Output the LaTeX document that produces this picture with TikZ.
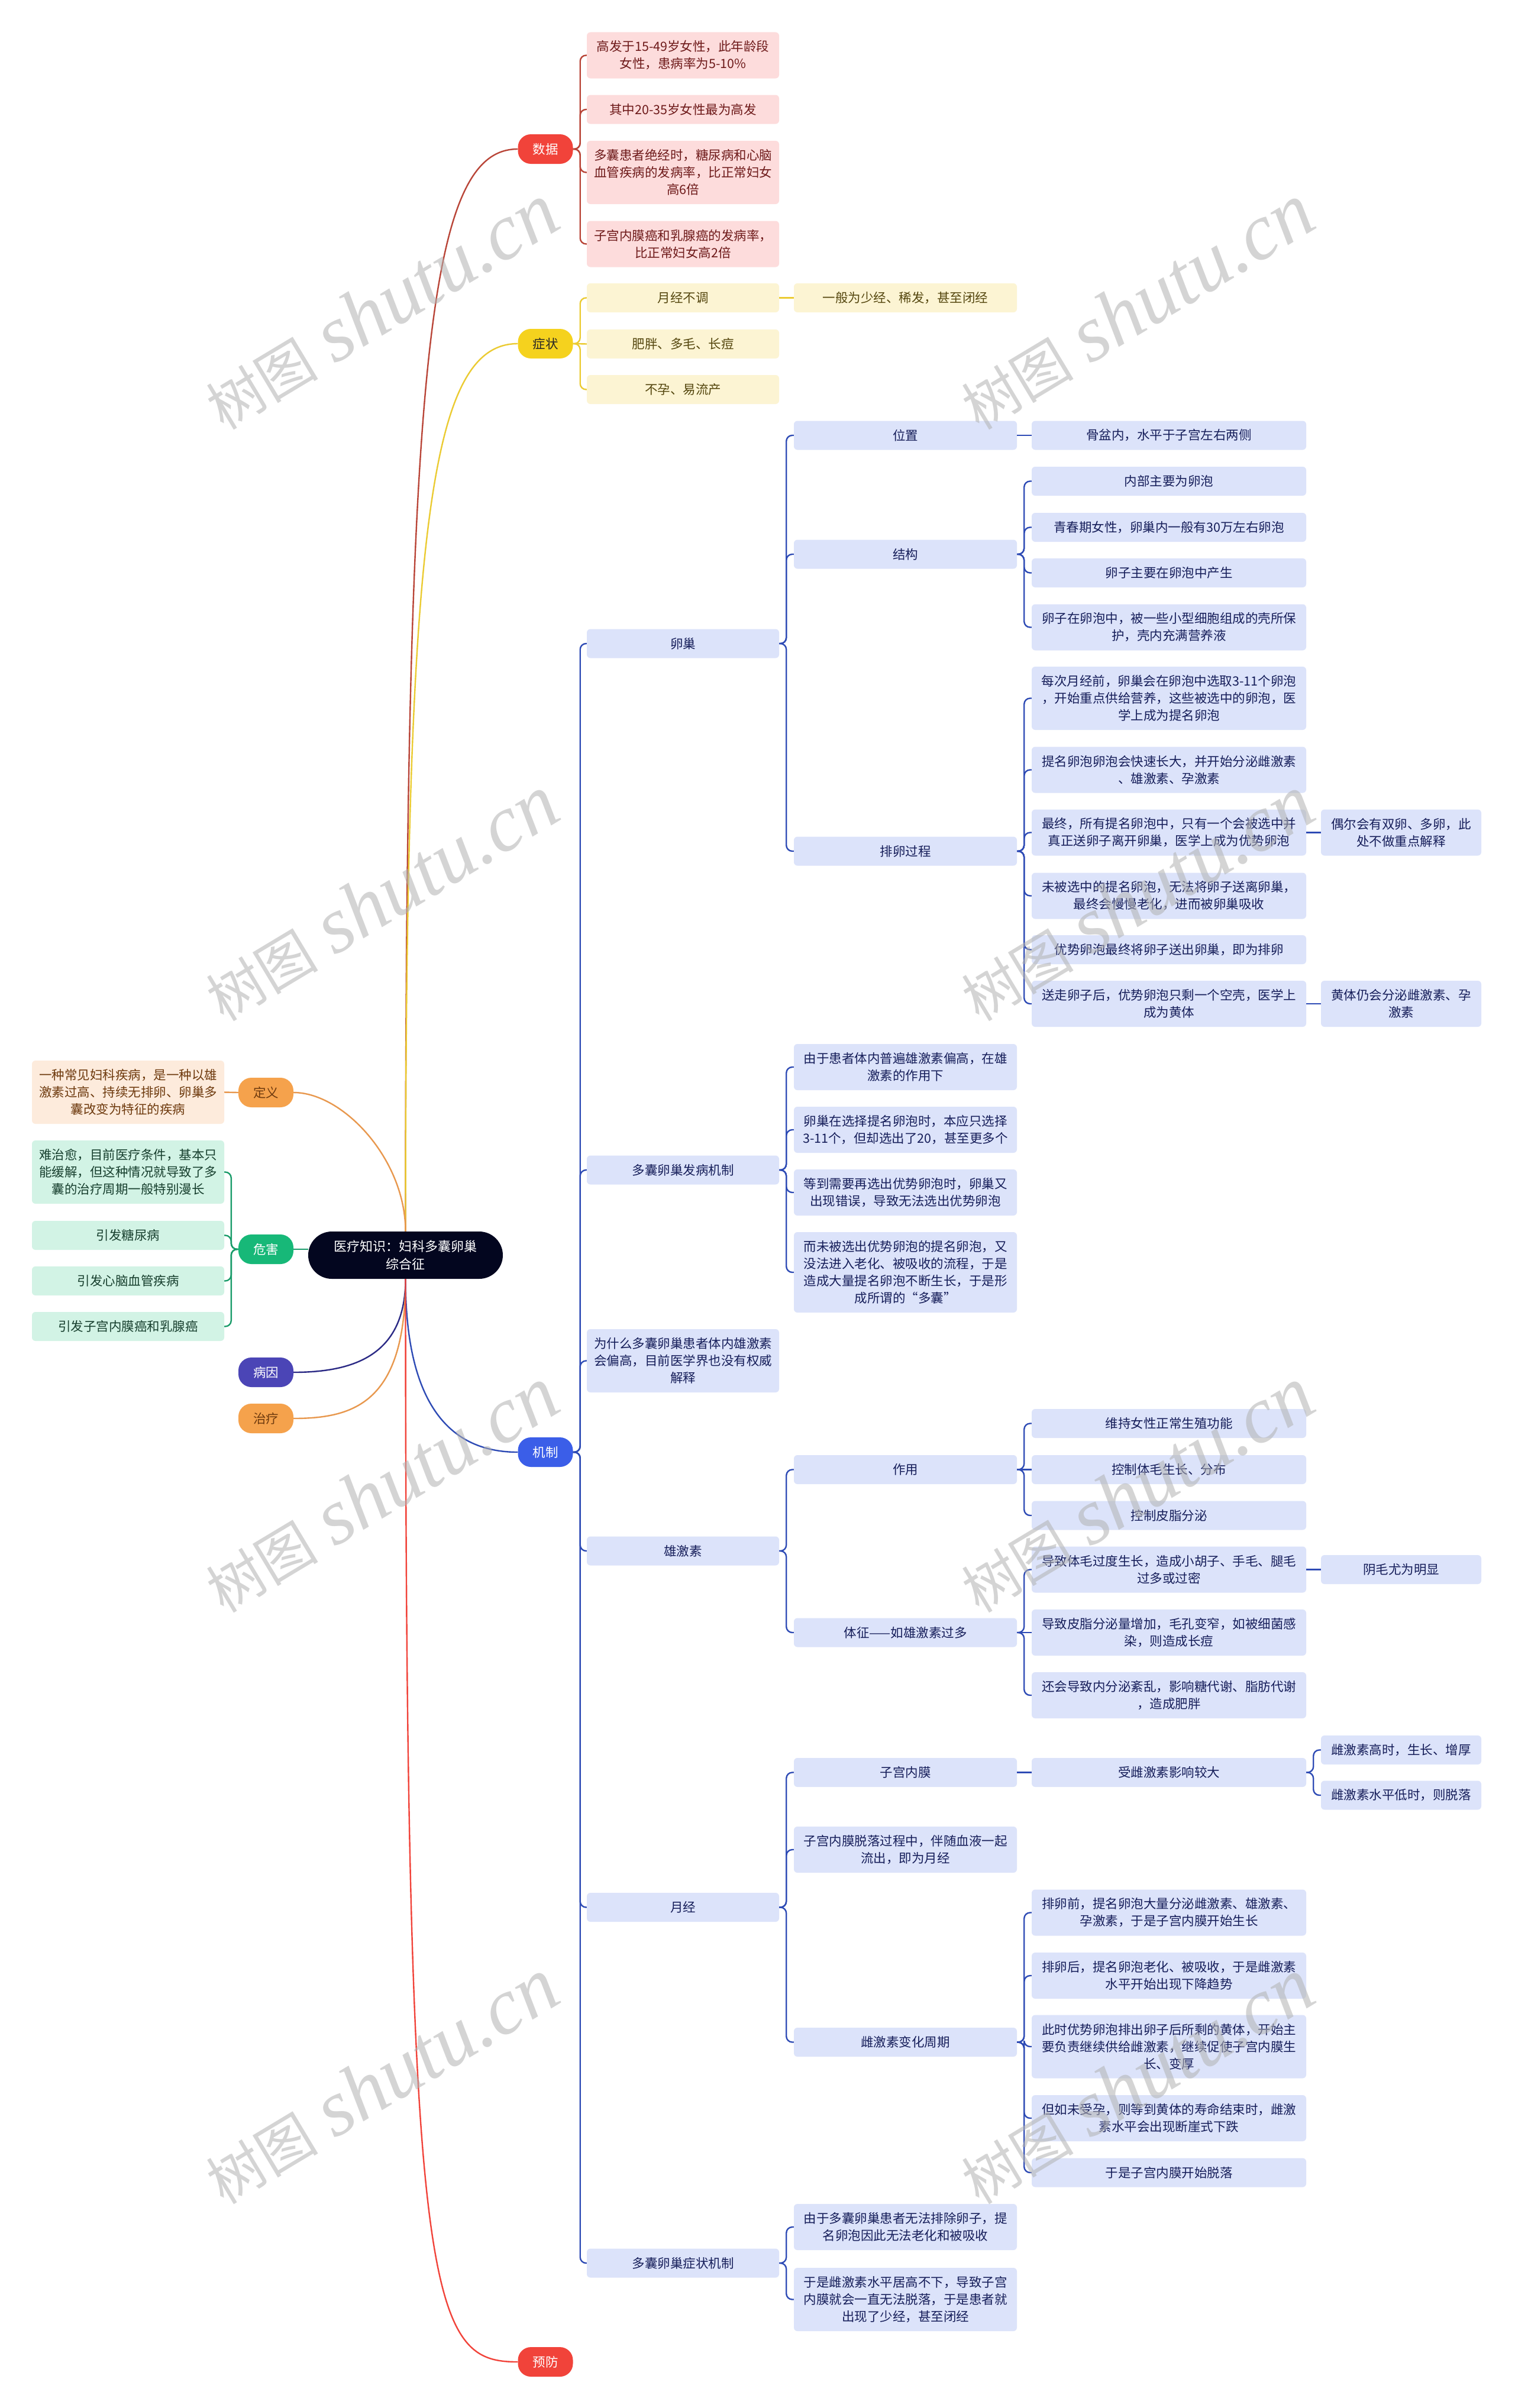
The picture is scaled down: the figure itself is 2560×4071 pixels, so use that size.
\documentclass[tikz,border=0pt]{standalone}
\usepackage{fontspec}
\newfontfamily\cjk{Noto Sans CJK SC}
\newfontfamily\wmserif{Liberation Serif}
\definecolor{rootc}{HTML}{03061F}
\definecolor{redp}{HTML}{F1433A}
\definecolor{redl}{HTML}{B94538}
\definecolor{redb}{HTML}{FDDCDC}
\definecolor{redt}{HTML}{6E1A1A}
\definecolor{yelp}{HTML}{F5D21E}
\definecolor{yell}{HTML}{EBCB32}
\definecolor{yelb}{HTML}{FCF4D3}
\definecolor{yelt}{HTML}{55470F}
\definecolor{orap}{HTML}{F5A24C}
\definecolor{oral}{HTML}{E8984E}
\definecolor{orab}{HTML}{FDEBDC}
\definecolor{orat}{HTML}{6E3A0E}
\definecolor{grnp}{HTML}{17B878}
\definecolor{grnl}{HTML}{1A9C6A}
\definecolor{grnb}{HTML}{D2F3E5}
\definecolor{grnt}{HTML}{173F2E}
\definecolor{indp}{HTML}{4B45B6}
\definecolor{indl}{HTML}{2B2A85}
\definecolor{blup}{HTML}{3B5EE8}
\definecolor{blul}{HTML}{2E4BB5}
\definecolor{blub}{HTML}{DCE3FA}
\definecolor{blut}{HTML}{161E5A}
\begin{document}
\begin{tikzpicture}[x=1pt,y=-1pt,
 txt/.style={font=\cjk\fontsize{21.5}{29}\selectfont},
 box/.style={txt, rounded corners=6, inner sep=0pt, align=center},
 cA/.style={box, minimum width=325},
 cB/.style={box, minimum width=377},
 cC/.style={box, minimum width=464},
 cD/.style={box, minimum width=271},
 cL/.style={box, minimum width=325},
 l1/.style={minimum height=49},
 l2/.style={minimum height=78},
 l3/.style={minimum height=107},
 l4/.style={minimum height=136},
 rb/.style={fill=redb, text=redt},
 yb/.style={fill=yelb, text=yelt},
 ob/.style={fill=orab, text=orat},
 gb/.style={fill=grnb, text=grnt},
 bb/.style={fill=blub, text=blut},
 pill/.style={txt, rounded corners=22, minimum width=93, minimum height=50, inner sep=0pt},
 rootn/.style={font=\cjk\fontsize{22}{30}\selectfont, fill=rootc, text=white, rounded corners=40, minimum width=329, minimum height=80, inner sep=0pt, align=center},
 rl/.style={draw=redl, line width=2.4pt, rounded corners=10},
 yl/.style={draw=yell, line width=2.4pt, rounded corners=10},
 ol/.style={draw=oral, line width=2.4pt, rounded corners=10},
 gl/.style={draw=grnl, line width=2.4pt, rounded corners=10},
 bl/.style={draw=blul, line width=2.4pt, rounded corners=10},
 wm/.style={text=gray!60, opacity=0.55, rotate=31}
]
\useasboundingbox (0,0) rectangle (2560,4071);
\fill[white] (0,0) rectangle (2560,4071);

% ---------- root and main pills ----------
\node[rootn] (root) at (685.5,2122) {医疗知识：妇科多囊卵巢\\综合征};
\node[pill, fill=redp, text=white] (data) at (922,252) {数据};
\node[pill, fill=yelp, text=black!85] (sym) at (922,581) {症状};
\node[pill, fill=blup, text=white] (mech) at (922,2455) {机制};
\node[pill, fill=redp, text=white] (prev) at (922,3993) {预防};
\node[pill, fill=orap, text=orat] (defp) at (449.5,1847) {定义};
\node[pill, fill=grnp, text=white] (hz) at (449.5,2112) {危害};
\node[pill, fill=indp, text=white] (cause) at (449.5,2320) {病因};
\node[pill, fill=orap, text=orat] (treat) at (449.5,2398) {治疗};

% ---------- main curves ----------
\draw[redl, line width=2.4pt] (root.north) .. controls (685.5,600) and (725,252) .. (data.west);
\draw[yell, line width=2.4pt] (root.north) .. controls (685.5,900) and (725,581) .. (sym.west);
\draw[oral, line width=2.4pt] (root.north) .. controls (685.5,1960) and (580,1847) .. (defp.east);
\draw[grnl, line width=2.4pt] (hz.east) -- (root.west |- hz.east);
\draw[indl, line width=2.4pt] (root.south) .. controls (685.5,2290) and (600,2320) .. (cause.east);
\draw[oral, line width=2.4pt] (root.south) .. controls (685.5,2370) and (600,2398) .. (treat.east);
\draw[blul, line width=2.4pt] (root.south) .. controls (685.5,2400) and (780,2455) .. (mech.west);
\draw[redp, line width=2.4pt] (root.south) .. controls (685.5,3900) and (725,3993) .. (prev.west);

% ---------- data ----------
\node[cA,l2,rb] (d1) at (1154.5,93.5) {高发于15-49岁女性，此年龄段\\女性，患病率为5-10\%};
\node[cA,l1,rb] (d2) at (1154.5,185) {其中20-35岁女性最为高发};
\node[cA,l3,rb] (d3) at (1154.5,291.5) {多囊患者绝经时，糖尿病和心脑\\血管疾病的发病率，比正常妇女\\高6倍};
\node[cA,l2,rb] (d4) at (1154.5,412.5) {子宫内膜癌和乳腺癌的发病率，\\比正常妇女高2倍};
\foreach \c in {d1,d2,d3,d4} \draw[rl] (data.east) -- ++(12,0) |- (\c.west);

% ---------- symptoms ----------
\node[cA,l1,yb] (s1) at (1154.5,503.5) {月经不调};
\node[cB,l1,yb] (s1a) at (1530.5,503.5) {一般为少经、稀发，甚至闭经};
\node[cA,l1,yb] (s2) at (1154.5,581.5) {肥胖、多毛、长痘};
\node[cA,l1,yb] (s3) at (1154.5,658.5) {不孕、易流产};
\draw[yl] (sym.east) -- ++(12,0) |- (s1.west);
\draw[yl] (sym.east) -- (s2.west);
\draw[yl] (sym.east) -- ++(12,0) |- (s3.west);
\draw[yl] (s1.east) -- (s1a.west);

% ---------- definition ----------
\node[cL,l3,ob] (defb) at (216.5,1846.5) {一种常见妇科疾病，是一种以雄\\激素过高、持续无排卵、卵巢多\\囊改变为特征的疾病};
\draw[ol] (defp.west) -- (defb.east);

% ---------- hazards ----------
\node[cL,l3,gb] (h1) at (216.5,1981.5) {难治愈，目前医疗条件，基本只\\能缓解，但这种情况就导致了多\\囊的治疗周期一般特别漫长};
\node[cL,l1,gb] (h2) at (216.5,2088.5) {引发糖尿病};
\node[cL,l1,gb] (h3) at (216.5,2165.5) {引发心脑血管疾病};
\node[cL,l1,gb] (h4) at (216.5,2242.5) {引发子宫内膜癌和乳腺癌};
\foreach \c in {h1,h2,h3,h4} \draw[gl] (hz.west) -- ++(-12,0) |- (\c.east);

% ---------- mechanism level A ----------
\node[cA,l1,bb] (m1) at (1154.5,1088) {卵巢};
\node[cA,l1,bb] (m2) at (1154.5,1978) {多囊卵巢发病机制};
\node[cA,l3,bb] (m3) at (1154.5,2300.5) {为什么多囊卵巢患者体内雄激素\\会偏高，目前医学界也没有权威\\解释};
\node[cA,l1,bb] (m4) at (1154.5,2622) {雄激素};
\node[cA,l1,bb] (m5) at (1154.5,3224.5) {月经};
\node[cA,l1,bb] (m6) at (1154.5,3826) {多囊卵巢症状机制};
\foreach \c in {m1,m2,m3,m4,m5,m6} \draw[bl] (mech.east) -- ++(12,0) |- (\c.west);

% ---------- ovary ----------
\node[cB,l1,bb] (o1) at (1530.5,736) {位置};
\node[cC,l1,bb] (o1a) at (1976,736) {骨盆内，水平于子宫左右两侧};
\node[cB,l1,bb] (o2) at (1530.5,937) {结构};
\node[cC,l1,bb] (o2a) at (1976,813.5) {内部主要为卵泡};
\node[cC,l1,bb] (o2b) at (1976,891.5) {青春期女性，卵巢内一般有30万左右卵泡};
\node[cC,l1,bb] (o2c) at (1976,968.5) {卵子主要在卵泡中产生};
\node[cC,l2,bb] (o2d) at (1976,1060.5) {卵子在卵泡中，被一些小型细胞组成的壳所保\\护，壳内充满营养液};
\node[cB,l1,bb] (o3) at (1530.5,1439) {排卵过程};
\node[cC,l3,bb] (o3a) at (1976,1180.5) {每次月经前，卵巢会在卵泡中选取3-11个卵泡\\，开始重点供给营养，这些被选中的卵泡，医\\学上成为提名卵泡};
\node[cC,l2,bb] (o3b) at (1976,1301.5) {提名卵泡卵泡会快速长大，并开始分泌雌激素\\、雄激素、孕激素};
\node[cC,l2,bb] (o3c) at (1976,1407.5) {最终，所有提名卵泡中，只有一个会被选中并\\真正送卵子离开卵巢，医学上成为优势卵泡};
\node[cD,l2,bb] (o3c1) at (2368.5,1407.5) {偶尔会有双卵、多卵，此\\处不做重点解释};
\node[cC,l2,bb] (o3d) at (1976,1514.5) {未被选中的提名卵泡，无法将卵子送离卵巢，\\最终会慢慢老化，进而被卵巢吸收};
\node[cC,l1,bb] (o3e) at (1976,1605.5) {优势卵泡最终将卵子送出卵巢，即为排卵};
\node[cC,l2,bb] (o3f) at (1976,1697) {送走卵子后，优势卵泡只剩一个空壳，医学上\\成为黄体};
\node[cD,l2,bb] (o3f1) at (2368.5,1697) {黄体仍会分泌雌激素、孕\\激素};
\foreach \c in {o1,o2,o3} \draw[bl] (m1.east) -- ++(12,0) |- (\c.west);
\draw[bl] (o1.east) -- (o1a.west);
\foreach \c in {o2a,o2b,o2c,o2d} \draw[bl] (o2.east) -- ++(12,0) |- (\c.west);
\foreach \c in {o3a,o3b,o3c,o3d,o3e,o3f} \draw[bl] (o3.east) -- ++(12,0) |- (\c.west);
\draw[bl] (o3c.east) -- (o3c1.west);
\draw[bl] (o3f.east) -- (o3f1.west);

% ---------- PCOS pathogenesis ----------
\node[cB,l2,bb] (p1) at (1530.5,1804) {由于患者体内普遍雄激素偏高，在雄\\激素的作用下};
\node[cB,l2,bb] (p2) at (1530.5,1910) {卵巢在选择提名卵泡时，本应只选择\\3-11个，但却选出了20，甚至更多个};
\node[cB,l2,bb] (p3) at (1530.5,2016) {等到需要再选出优势卵泡时，卵巢又\\出现错误，导致无法选出优势卵泡};
\node[cB,l4,bb] (p4) at (1530.5,2151) {而未被选出优势卵泡的提名卵泡，又\\没法进入老化、被吸收的流程，于是\\造成大量提名卵泡不断生长，于是形\\成所谓的“多囊”};
\foreach \c in {p1,p2,p3,p4} \draw[bl] (m2.east) -- ++(12,0) |- (\c.west);

% ---------- androgen ----------
\node[cB,l1,bb] (a1) at (1530.5,2484.5) {作用};
\node[cC,l1,bb] (a1a) at (1976,2406.5) {维持女性正常生殖功能};
\node[cC,l1,bb] (a1b) at (1976,2484.5) {控制体毛生长、分布};
\node[cC,l1,bb] (a1c) at (1976,2562) {控制皮脂分泌};
\node[cB,l1,bb] (a2) at (1530.5,2760) {体征——如雄激素过多};
\node[cC,l2,bb] (a2a) at (1976,2653.5) {导致体毛过度生长，造成小胡子、手毛、腿毛\\过多或过密};
\node[cD,l1,bb] (a2a1) at (2368.5,2653.5) {阴毛尤为明显};
\node[cC,l2,bb] (a2b) at (1976,2760) {导致皮脂分泌量增加，毛孔变窄，如被细菌感\\染，则造成长痘};
\node[cC,l2,bb] (a2c) at (1976,2866) {还会导致内分泌紊乱，影响糖代谢、脂肪代谢\\，造成肥胖};
\foreach \c in {a1,a2} \draw[bl] (m4.east) -- ++(12,0) |- (\c.west);
\draw[bl] (a1.east) -- ++(12,0) |- (a1a.west);
\draw[bl] (a1.east) -- (a1b.west);
\draw[bl] (a1.east) -- ++(12,0) |- (a1c.west);
\draw[bl] (a2.east) -- ++(12,0) |- (a2a.west);
\draw[bl] (a2.east) -- (a2b.west);
\draw[bl] (a2.east) -- ++(12,0) |- (a2c.west);
\draw[bl] (a2a.east) -- (a2a1.west);

% ---------- menstruation ----------
\node[cB,l1,bb] (e1) at (1530.5,2996.5) {子宫内膜};
\node[cC,l1,bb] (e1a) at (1976,2996.5) {受雌激素影响较大};
\node[cD,l1,bb] (e1a1) at (2368.5,2958.5) {雌激素高时，生长、增厚};
\node[cD,l1,bb] (e1a2) at (2368.5,3035) {雌激素水平低时，则脱落};
\node[cB,l2,bb] (e2) at (1530.5,3127) {子宫内膜脱落过程中，伴随血液一起\\流出，即为月经};
\node[cB,l1,bb] (e3) at (1530.5,3452.5) {雌激素变化周期};
\node[cC,l2,bb] (e3a) at (1976,3233.5) {排卵前，提名卵泡大量分泌雌激素、雄激素、\\孕激素，于是子宫内膜开始生长};
\node[cC,l2,bb] (e3b) at (1976,3340) {排卵后，提名卵泡老化、被吸收，于是雌激素\\水平开始出现下降趋势};
\node[cC,l3,bb] (e3c) at (1976,3460) {此时优势卵泡排出卵子后所剩的黄体，开始主\\要负责继续供给雌激素，继续促使子宫内膜生\\长、变厚};
\node[cC,l2,bb] (e3d) at (1976,3581) {但如未受孕，则等到黄体的寿命结束时，雌激\\素水平会出现断崖式下跌};
\node[cC,l1,bb] (e3e) at (1976,3673) {于是子宫内膜开始脱落};
\foreach \c in {e1,e2,e3} \draw[bl] (m5.east) -- ++(12,0) |- (\c.west);
\draw[bl] (e1.east) -- (e1a.west);
\foreach \c in {e1a1,e1a2} \draw[bl] (e1a.east) -- ++(12,0) |- (\c.west);
\foreach \c in {e3a,e3b,e3c,e3d,e3e} \draw[bl] (e3.east) -- ++(12,0) |- (\c.west);

% ---------- symptom mechanism ----------
\node[cB,l2,bb] (q1) at (1530.5,3765) {由于多囊卵巢患者无法排除卵子，提\\名卵泡因此无法老化和被吸收};
\node[cB,l3,bb] (q2) at (1530.5,3887.5) {于是雌激素水平居高不下，导致子宫\\内膜就会一直无法脱落，于是患者就\\出现了少经，甚至闭经};
\foreach \c in {q1,q2} \draw[bl] (m6.east) -- ++(12,0) |- (\c.west);

% ---------- watermarks ----------
\foreach \wx/\wy in {644/519,1921/519,644/1519,1921/1519,644/2519,1921/2519,644/3519,1921/3519}
  \node[wm] (wm\wx\wy) at (\wx,\wy) {{\cjk\fontsize{95}{100}\selectfont 树图}\hspace{28pt}{\wmserif\itshape\fontsize{135}{140}\selectfont shutu.cn}};
\end{tikzpicture}
\end{document}
